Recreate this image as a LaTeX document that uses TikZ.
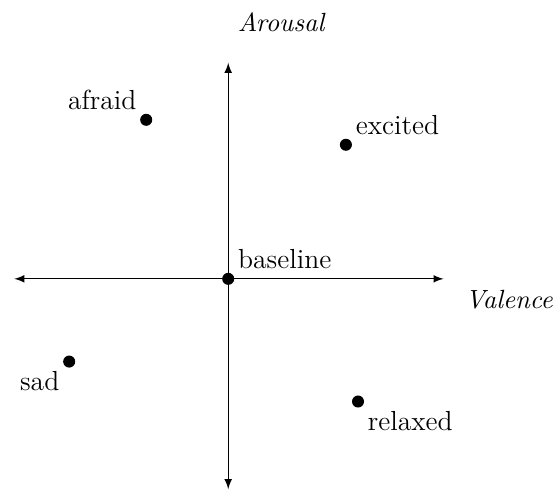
\documentclass[tikz,border=0pt]{standalone}
\begin{document}
\begin{tikzpicture}[>=latex, font=\fontsize{11pt}{13pt}\selectfont,
    pt/.style={circle, fill, inner sep=0pt, minimum size=4.8pt},
    ax/.style={anchor=west, font=\fontsize{10.5pt}{12pt}\selectfont\itshape}]
  \useasboundingbox (-3.2,-2.97) rectangle (4.61,3.91);
  % axes
  \coordinate (xl) at (-3,0);
  \coordinate (xr) at (3.02,0);
  \coordinate (yb) at (0,-2.95);
  \coordinate (yt) at (0,3.03);
  \draw[<->] (xl) -- (xr);
  \draw[<->] (yb) -- (yt);
  \node[ax] (aro) at (0.01,3.6) {Arousal};
  \node[ax] (val) at (3.2,-0.29) {Valence};
  % emotions
  \node[pt, label={[label distance=-2pt]above right:baseline}] (base) at (0,0) {};
  \node[pt, label={[label distance=-2pt]above left:afraid}] (afr) at (-1.15,2.23) {};
  \node[pt, label={[label distance=-2pt]above right:excited}] (exc) at (1.65,1.88) {};
  \node[pt, label={[label distance=-2pt]below left:sad}] (sad) at (-2.23,-1.16) {};
  \node[pt, label={[label distance=-2pt]below right:relaxed}] (rel) at (1.82,-1.72) {};
\end{tikzpicture}
\end{document}
